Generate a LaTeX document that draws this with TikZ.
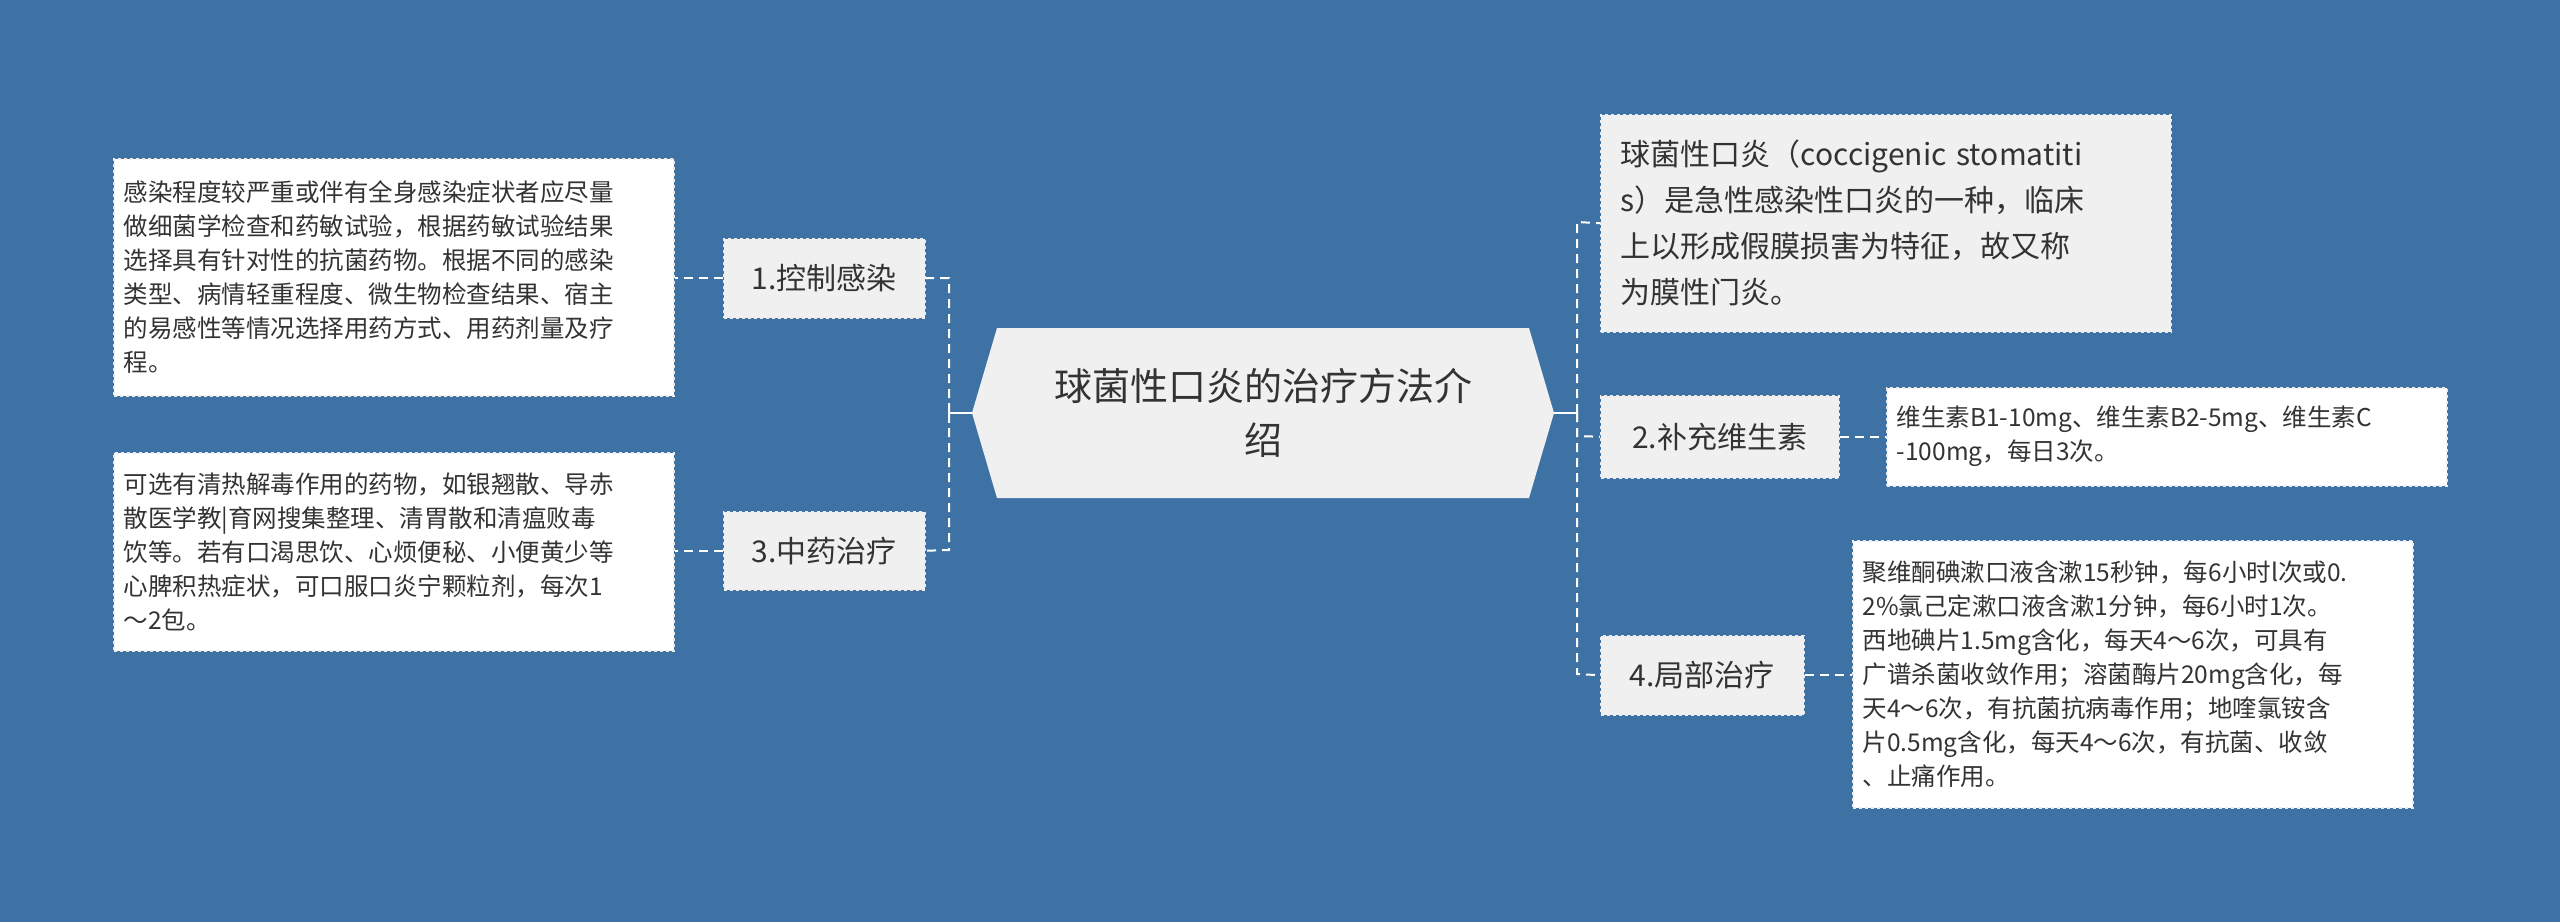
\documentclass[tikz,border=0pt]{standalone}
\usepackage{fontspec}
\setmainfont{Noto Sans CJK SC}
\usetikzlibrary{calc}
\definecolor{bg}{HTML}{3E72A5}
\definecolor{catfill}{HTML}{F0F0F0}
\definecolor{txt}{HTML}{333333}
\begin{document}
\begin{tikzpicture}[x=1pt,y=-1pt,
  cat/.style={draw=white!85!gray,dashed,line width=1.5pt,fill=catfill,text=txt,font=\fontsize{30}{40}\selectfont,inner sep=0pt,anchor=north west},
  leaf/.style={draw=white!85!gray,dashed,line width=1.5pt,fill=white,text=txt,align=left,inner sep=0pt,anchor=north west},
  link/.style={draw=white,dashed,line width=2pt,dash pattern=on 9pt off 6pt}]
\fill[bg] (0,0) rectangle (2560,922);
\useasboundingbox (0,0) rectangle (2560,922);
% central
\fill[catfill] (972,413) -- (997,328) -- (1529,328) -- (1554,413) -- (1529,498) -- (997,498) -- cycle;
\node[text=txt,font=\fontsize{38}{54}\selectfont,align=center] (c) at (1263,413) {球菌性口炎的治疗方法介\\绍};
\coordinate (cw) at (972,413);
\coordinate (ce) at (1554,413);
% categories
\node[cat,minimum width=201pt,minimum height=79pt] (k1) at (723,238) {1.控制感染};
\node[cat,minimum width=201pt,minimum height=78pt] (k3) at (723,511) {3.中药治疗};
\node[cat,minimum width=238pt,minimum height=82pt] (k2) at (1600,395) {2.补充维生素};
\node[cat,minimum width=203pt,minimum height=79pt] (k4) at (1600,635) {4.局部治疗};
\node[cat,align=left,text width=530pt,minimum width=570pt,minimum height=217pt,inner xsep=20pt,font=\fontsize{30}{46}\selectfont] (k0) at (1600,114) {球菌性口炎（coccigenic stomatiti\\s）是急性感染性口炎的一种，临床\\上以形成假膜损害为特征，故又称\\为膜性门炎。};
% leaves
\node[leaf,text width=540pt,minimum width=560pt,minimum height=237pt,inner xsep=10pt,font=\fontsize{24.5}{34}\selectfont] (l1) at (113,158) {感染程度较严重或伴有全身感染症状者应尽量\\做细菌学检查和药敏试验，根据药敏试验结果\\选择具有针对性的抗菌药物。根据不同的感染\\类型、病情轻重程度、微生物检查结果、宿主\\的易感性等情况选择用药方式、用药剂量及疗\\程。};
\node[leaf,text width=540pt,minimum width=560pt,minimum height=198pt,inner xsep=10pt,font=\fontsize{24.5}{34}\selectfont] (l3) at (113,452) {可选有清热解毒作用的药物，如银翘散、导赤\\散医学教|育网搜集整理、清胃散和清瘟败毒\\饮等。若有口渴思饮、心烦便秘、小便黄少等\\心脾积热症状，可口服口炎宁颗粒剂，每次1\\～2包。};
\node[leaf,text width=540pt,minimum width=560pt,minimum height=98pt,inner xsep=10pt,font=\fontsize{24.5}{34}\selectfont] (l2) at (1886,387) {维生素B1-10mg、维生素B2-5mg、维生素C\\-100mg，每日3次。};
\node[leaf,text width=540pt,minimum width=560pt,minimum height=267pt,inner xsep=10pt,font=\fontsize{24.5}{34}\selectfont] (l4) at (1852,540) {聚维酮碘漱口液含漱15秒钟，每6小时l次或0.\\2\%氯己定漱口液含漱1分钟，每6小时1次。\\西地碘片1.5mg含化，每天4～6次，可具有\\广谱杀菌收敛作用；溶菌酶片20mg含化，每\\天4～6次，有抗菌抗病毒作用；地喹氯铵含\\片0.5mg含化，每天4～6次，有抗菌、收敛\\、止痛作用。};
% connectors left
\coordinate (bl) at (949,413);
\draw[white,line width=2pt] (cw) -- (bl);
\draw[white,line width=2pt] (949,403) -- (949,423);
\draw[link] (bl) -- (949,278) -- (k1.east);
\draw[link] (bl) -- (949,550) -- (k3.east);
\draw[link] (k1.west) -- (l1.east |- k1.west);
\draw[link] (k3.west) -- (l3.east |- k3.west);
% connectors right
\coordinate (br) at (1577,413);
\draw[white,line width=2pt] (ce) -- (br);
\draw[link] (br) -- (1577,222) -- (k0.west);
\draw[link] (br) -- (1577,436) -- (k2.west);
\draw[link] (br) -- (1577,674) -- (k4.west);
\draw[link] (k2.east) -- (l2.west |- k2.east);
\draw[link] (k4.east) -- (l4.west |- k4.east);
\end{tikzpicture}
\end{document}
